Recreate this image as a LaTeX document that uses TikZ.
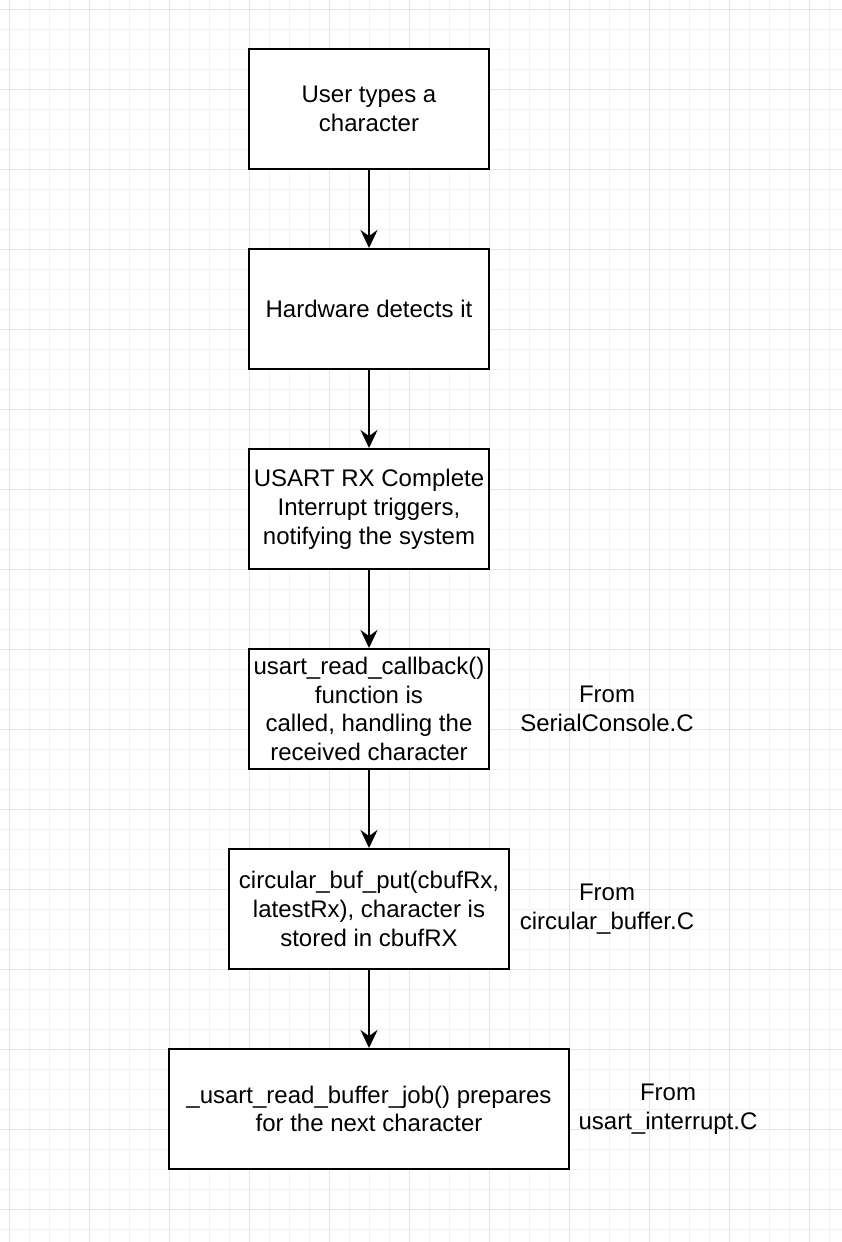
\documentclass[tikz,border=0pt]{standalone}
\usepackage{fontspec}
\setmainfont{Liberation Sans}
\usetikzlibrary{arrows.meta}
\definecolor{gridminor}{HTML}{F3F3F3}
\definecolor{gridmajor}{HTML}{E3E3E3}
\begin{document}
\begin{tikzpicture}[x=1pt,y=-1pt,
  stepbox/.style={draw=black, line width=2pt, fill=white, align=center,
    font=\fontsize{24}{28.8}\selectfont, inner sep=0pt},
  note/.style={align=center, font=\fontsize{24}{28.8}\selectfont, inner sep=0pt},
  flow/.style={draw=black, line width=2pt,
    -{Stealth[length=18pt,width=17pt,inset=6pt]}},
  minorline/.style={draw=gridminor, line width=1pt},
  majorline/.style={draw=gridmajor, line width=1pt},
]
\useasboundingbox (0,0) rectangle (842,1242);
\fill[white] (0,0) rectangle (842,1242);

% background grid: fine lines every 20, heavier every 80
\foreach \x in {9,29,...,842} \draw[minorline] (\x,0) -- (\x,1242);
\foreach \y in {9,29,...,1242} \draw[minorline] (0,\y) -- (842,\y);
\foreach \x in {9,89,...,842} \draw[majorline] (\x,0) -- (\x,1242);
\foreach \y in {9,89,...,1242} \draw[majorline] (0,\y) -- (842,\y);

% process steps
\node[stepbox, minimum width=240, minimum height=120] (b1) at (369,109)
  {User types a\\character};
\node[stepbox, minimum width=240, minimum height=120] (b2) at (369,309)
  {Hardware detects it};
\node[stepbox, minimum width=240, minimum height=120] (b3) at (369,509)
  {USART RX Complete\\Interrupt triggers,\\notifying the system};
\node[stepbox, minimum width=240, minimum height=120] (b4) at (369,709)
  {usart\_read\_callback()\\function is\\called, handling the\\received character};
\node[stepbox, minimum width=280, minimum height=120] (b5) at (369,909)
  {circular\_buf\_put(cbufRx,\\latestRx), character is\\stored in cbufRX};
\node[stepbox, minimum width=400, minimum height=120] (b6) at (369,1109)
  {\_usart\_read\_buffer\_job() prepares\\for the next character};

% source file notes
\node[note] (n4) at (607,709) {From\\SerialConsole.C};
\node[note] (n5) at (607,909) {From\\circular\_buffer.C};
\node[note] (n6) at (668,1109) {From\\usart\_interrupt.C};

% connectors
\draw[flow] (b1) -- (b2);
\draw[flow] (b2) -- (b3);
\draw[flow] (b3) -- (b4);
\draw[flow] (b4) -- (b5);
\draw[flow] (b5) -- (b6);
\end{tikzpicture}
\end{document}
